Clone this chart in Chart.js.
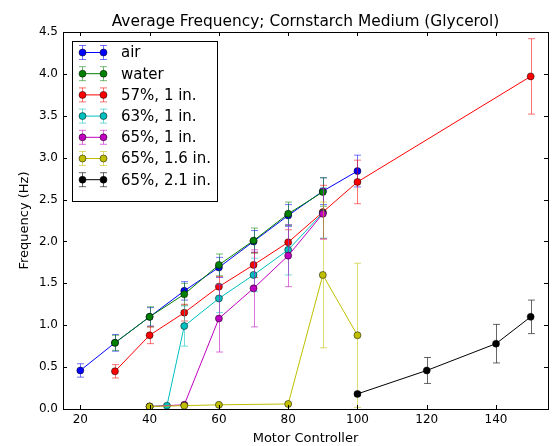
<!DOCTYPE html>
<html>
<head>
<meta charset="utf-8">
<script src="https://cdn.jsdelivr.net/npm/chart.js@4.4.0/dist/chart.umd.min.js"></script>
<style>
body { margin: 0; background: #fff; }
</style>
</head>
<body>
<canvas id="grafico" width="558" height="446"></canvas>
<script>
// Frecuencia media (Hz) frente al controlador del motor, por medio
var etiquetas = ['air', 'water', '57%, 1 in.', '63%, 1 in.', '65%, 1 in.', '65%, 1.6 in.', '65%, 2.1 in.'];

var airX = [20, 30, 40, 50, 60, 70, 80, 90, 100];
var airY = [0.46, 0.79, 1.10, 1.41, 1.69, 2.00, 2.31, 2.60, 2.84];
var airErr = [0.08, 0.10, 0.11, 0.11, 0.12, 0.13, 0.13, 0.16, 0.19];

var waterX = [30, 40, 50, 60, 70, 80, 90];
var waterY = [0.79, 1.10, 1.37, 1.72, 2.01, 2.33, 2.59];
var waterErr = [0.09, 0.12, 0.13, 0.13, 0.15, 0.14, 0.17];

var g57X = [30, 40, 50, 60, 70, 80, 90, 100, 150];
var g57Y = [0.45, 0.88, 1.15, 1.46, 1.72, 1.99, 2.35, 2.71, 3.97];
var g57Err = [0.08, 0.10, 0.10, 0.12, 0.15, 0.15, 0.32, 0.26, 0.45];

var g63X = [40, 45, 50, 60, 70, 80, 90];
var g63Y = [0.03, 0.04, 0.99, 1.32, 1.60, 1.90, 2.34];
var g63Err = [0.01, 0.01, 0.24, 0.17, 0.20, 0.30, 0.30];

var g65X = [40, 50, 60, 70, 80, 90];
var g65Y = [0.03, 0.05, 1.08, 1.44, 1.83, 2.33];
var g65Err = [0.01, 0.02, 0.40, 0.46, 0.37, 0.30];

var g65mX = [40, 50, 60, 80, 90, 100];
var g65mY = [0.03, 0.04, 0.05, 0.06, 1.60, 0.88];
var g65mErr = [0.01, 0.01, 0.01, 0.01, 0.87, 0.86];

var g65gX = [100, 120, 140, 150];
var g65gY = [0.18, 0.46, 0.78, 1.10];
var g65gErr = [0.02, 0.155, 0.23, 0.20];

var xTicks = [20, 40, 60, 80, 100, 120, 140];
var yTicks = [0, 0.5, 1, 1.5, 2, 2.5, 3, 3.5, 4, 4.5];
var yTickLabels = ['0.0', '0.5', '1.0', '1.5', '2.0', '2.5', '3.0', '3.5', '4.0', '4.5'];

var colores = ['#0000ff', '#008000', '#ff0000', '#00bfbf', '#bf00bf', '#bfbf00', '#000000'];
var coloresError = ['rgba(0,0,255,0.55)', 'rgba(0,128,0,0.55)', 'rgba(255,0,0,0.55)', 'rgba(0,191,191,0.55)',
                    'rgba(191,0,191,0.55)', 'rgba(191,191,0,0.55)', 'rgba(0,0,0,0.6)'];

var series = [
    [airX, airY, airErr],
    [waterX, waterY, waterErr],
    [g57X, g57Y, g57Err],
    [g63X, g63Y, g63Err],
    [g65X, g65Y, g65Err],
    [g65mX, g65mY, g65mErr],
    [g65gX, g65gY, g65gErr]
];

var datasets = [];
for (var s = 0; s < series.length; s++) {
    var pts = [];
    for (var i = 0; i < series[s][0].length; i++) {
        pts.push({ x: series[s][0][i], y: series[s][1][i], err: series[s][2][i] });
    }
    datasets.push({
        label: etiquetas[s],
        data: pts,
        borderColor: colores[s],
        backgroundColor: colores[s],
        pointBackgroundColor: colores[s],
        pointBorderColor: '#000',
        pointBorderWidth: 0.5,
        pointRadius: 3.5,
        borderWidth: 1,
        tension: 0,
        errorColor: coloresError[s],
        order: series.length - 1 - s   // las ultimas series quedan encima
    });
}

// barras de error, dibujadas justo antes de cada serie
var barrasError = {
    id: 'barrasError',
    beforeDatasetDraw: function(chart, args) {
        var ctx = chart.ctx;
        var ds = chart.data.datasets[args.index];
        var sx = chart.scales.x, sy = chart.scales.y;
        var area = chart.chartArea;
        ctx.save();
        ctx.beginPath();
        ctx.rect(area.left, area.top, area.right - area.left, area.bottom - area.top);
        ctx.clip();
        ctx.strokeStyle = ds.errorColor;
        ctx.lineWidth = 1;
        ctx.beginPath();
        for (var i = 0; i < ds.data.length; i++) {
            var p = ds.data[i];
            var px = Math.round(sx.getPixelForValue(p.x)) + 0.5;
            var arriba = sy.getPixelForValue(p.y + p.err);
            var abajo = sy.getPixelForValue(p.y - p.err);
            ctx.moveTo(px, arriba); ctx.lineTo(px, abajo);
            ctx.moveTo(px - 3.5, arriba); ctx.lineTo(px + 3.5, arriba);
            ctx.moveTo(px - 3.5, abajo); ctx.lineTo(px + 3.5, abajo);
        }
        ctx.stroke();
        ctx.restore();
    }
};

// marco, marcas hacia dentro, titulo y leyenda
var marco = {
    id: 'marco',
    afterDraw: function(chart) {
        var ctx = chart.ctx;
        var a = chart.chartArea;
        var sx = chart.scales.x, sy = chart.scales.y;
        ctx.save();
        ctx.strokeStyle = '#000';
        ctx.lineWidth = 1;
        ctx.beginPath();
        for (var i = 0; i < xTicks.length; i++) {
            var px = Math.round(sx.getPixelForValue(xTicks[i])) + 0.5;
            ctx.moveTo(px, a.bottom); ctx.lineTo(px, a.bottom - 4);
            ctx.moveTo(px, a.top); ctx.lineTo(px, a.top + 4);
        }
        for (var j = 0; j < yTicks.length; j++) {
            var py = Math.round(sy.getPixelForValue(yTicks[j])) + 0.5;
            ctx.moveTo(a.left, py); ctx.lineTo(a.left + 4, py);
            ctx.moveTo(a.right, py); ctx.lineTo(a.right - 4, py);
        }
        ctx.stroke();
        ctx.strokeRect(Math.round(a.left) + 0.5, Math.round(a.top) + 0.5,
                       Math.round(a.right - a.left), Math.round(a.bottom - a.top));

        // titulo centrado sobre el area del grafico
        ctx.fillStyle = '#000';
        ctx.font = '15.4px "DejaVu Sans"';
        ctx.textAlign = 'center';
        ctx.textBaseline = 'alphabetic';
        ctx.fillText('Average Frequency; Cornstarch Medium (Glycerol)', (a.left + a.right) / 2, a.top - 6);

        // leyenda
        var lx = a.left + 9, ly = a.top + 9, lw = 145, lh = 160;
        ctx.fillStyle = '#fff';
        ctx.fillRect(lx, ly, lw, lh);
        ctx.strokeRect(lx + 0.5, ly + 0.5, lw, lh);
        ctx.font = '15px "DejaVu Sans"';
        ctx.textAlign = 'left';
        ctx.textBaseline = 'middle';
        for (var k = 0; k < etiquetas.length; k++) {
            var cy = ly + 11.5 + k * 21.2;
            var x1 = lx + 10.5, x2 = lx + 31.5;
            ctx.strokeStyle = coloresError[k];
            ctx.beginPath();
            [x1, x2].forEach(function(mx) {
                ctx.moveTo(mx, cy - 7); ctx.lineTo(mx, cy + 7);
                ctx.moveTo(mx - 3.5, cy - 7); ctx.lineTo(mx + 3.5, cy - 7);
                ctx.moveTo(mx - 3.5, cy + 7); ctx.lineTo(mx + 3.5, cy + 7);
            });
            ctx.stroke();
            ctx.strokeStyle = colores[k];
            ctx.beginPath();
            ctx.moveTo(x1, cy); ctx.lineTo(x2, cy);
            ctx.stroke();
            [x1, x2].forEach(function(mx) {
                ctx.beginPath();
                ctx.arc(mx, cy, 3.5, 0, Math.PI * 2);
                ctx.fillStyle = colores[k];
                ctx.fill();
                ctx.lineWidth = 0.5;
                ctx.strokeStyle = '#000';
                ctx.stroke();
                ctx.lineWidth = 1;
            });
            ctx.fillStyle = '#000';
            ctx.fillText(etiquetas[k], lx + 49, cy + 1);
        }
        ctx.restore();
    }
};

Chart.defaults.font.family = '"DejaVu Sans"';
Chart.defaults.color = '#000';

var ctx = document.getElementById('grafico').getContext('2d');
window.myChart = new Chart(ctx, {
    type: 'line',
    data: { datasets: datasets },
    options: {
        responsive: false,
        animation: false,
        layout: { padding: { top: 32, right: 10 } },
        scales: {
            x: {
                type: 'linear',
                min: 15,
                max: 155,
                grid: { display: false, drawTicks: false },
                border: { display: false },
                afterBuildTicks: function(scale) {
                    scale.ticks = xTicks.map(function(v) { return { value: v }; });
                },
                afterFit: function(scale) { scale.height = 37; },
                ticks: { font: { size: 12 }, padding: 4, maxRotation: 0 },
                title: { display: true, text: 'Motor Controller', font: { size: 13 }, padding: { top: 0, bottom: 0 } }
            },
            y: {
                min: 0,
                max: 4.5,
                grid: { display: false, drawTicks: false },
                border: { display: false },
                afterBuildTicks: function(scale) {
                    scale.ticks = yTicks.map(function(v) { return { value: v }; });
                },
                afterFit: function(scale) { scale.width = 63; },
                ticks: {
                    font: { size: 12 },
                    padding: 5,
                    callback: function(value) { return yTickLabels[yTicks.indexOf(value)]; }
                },
                title: { display: true, text: 'Frequency (Hz)', font: { size: 13 }, padding: { top: 17, bottom: 0 } }
            }
        },
        plugins: {
            legend: { display: false },
            tooltip: { enabled: false },
            title: { display: false }
        }
    },
    plugins: [barrasError, marco]
});
</script>
</body>
</html>
